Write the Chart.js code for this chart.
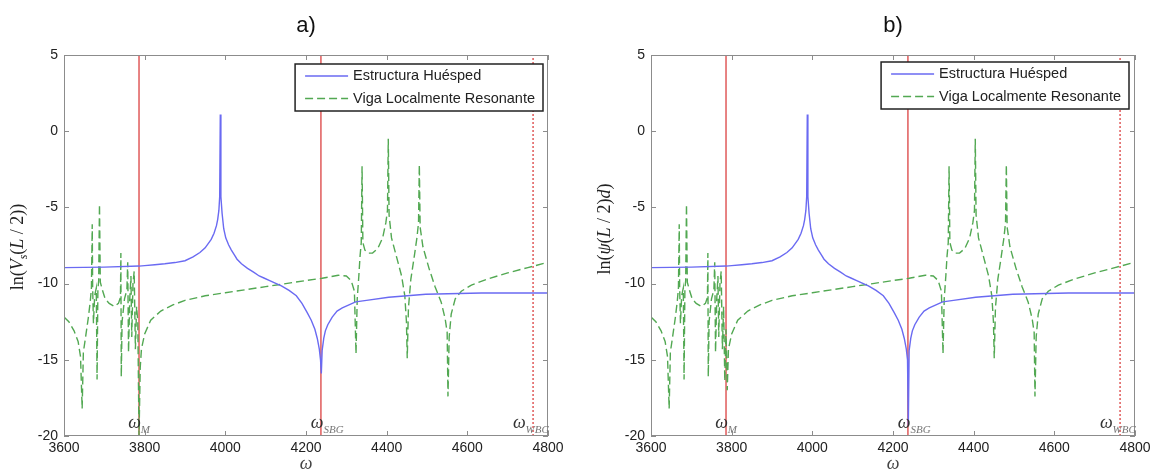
<!DOCTYPE html>
<html lang="es">
<head>
<meta charset="UTF-8">
<title>Viga localmente resonante - a) y b)</title>
<script src="https://cdn.jsdelivr.net/npm/chart.js"></script>
<style>
  body { margin: 0; background: #fff; width: 1157px; height: 475px; overflow: hidden; position: relative; }
  .panel { position: absolute; top: 0; height: 475px; }
</style>
</head>
<body>
<div class="panel" style="left:0;width:580px"><canvas id="chartA" width="580" height="475"></canvas></div>
<div class="panel" style="left:580px;width:577px"><canvas id="chartB" width="577" height="475"></canvas></div>

<script>
// --- datos ---
const omegaBlue = [3600, 3700, 3786, 3800, 3825, 3850, 3875, 3900, 3920, 3937, 3950, 3965, 3972, 3978, 3981,
  3984, 3986, 3987.5, 3989, 3992, 3996, 4001, 4008, 4015, 4022, 4029, 4040, 4055, 4070, 4084, 4097,
  4110, 4125, 4139, 4158, 4176, 4190, 4203, 4213, 4222, 4228, 4233, 4236, 4238, 4240, 4244, 4248,
  4254, 4265, 4277, 4290, 4323, 4350, 4405, 4497, 4635, 4800];
const blueA = [-8.95, -8.92, -8.85, -8.82, -8.76, -8.7, -8.62, -8.5, -8.25, -7.96, -7.65, -7.1, -6.7, -6.2, -5.8,
  -5.2, -4.3, 1.1, -4.3, -5.4, -6.4, -7.0, -7.45, -7.8, -8.1, -8.4, -8.7, -9.0, -9.25, -9.5, -9.65,
  -9.8, -9.98, -10.15, -10.45, -10.8, -11.3, -11.9, -12.4, -13.0, -13.6, -14.3, -15.0, -15.9, -14.4, -13.6, -13.1,
  -12.7, -12.2, -11.8, -11.6, -11.2, -11.1, -10.9, -10.7, -10.62, -10.62];
const blueB = [-8.95, -8.92, -8.85, -8.82, -8.76, -8.7, -8.62, -8.5, -8.25, -7.96, -7.65, -7.1, -6.7, -6.2, -5.8,
  -5.2, -4.3, 1.1, -4.3, -5.4, -6.4, -7.0, -7.45, -7.8, -8.1, -8.4, -8.7, -9.0, -9.25, -9.5, -9.65,
  -9.8, -9.98, -10.15, -10.45, -10.8, -11.3, -11.9, -12.4, -13.0, -13.6, -14.3, -15.0, -19.3, -14.4, -13.6, -13.1,
  -12.7, -12.2, -11.8, -11.6, -11.2, -11.1, -10.9, -10.7, -10.62, -10.62];

const omegaGreen = [3600, 3612, 3625, 3635, 3641, 3645, 3648, 3653, 3660, 3665, 3668, 3670, 3671, 3673,
  3676, 3680, 3682, 3684, 3686, 3688, 3690, 3695, 3702, 3712, 3725, 3735, 3740, 3741, 3742, 3744,
  3750, 3756, 3758, 3760, 3763, 3766, 3768, 3771, 3774, 3777, 3780, 3783, 3786, 3789, 3792,
  3800, 3815, 3840, 3870, 3900, 3950, 4000, 4050, 4100, 4150, 4200, 4240, 4280, 4300, 4312,
  4320, 4324, 4327, 4331, 4334, 4337, 4339, 4341, 4346, 4355, 4365, 4378, 4390, 4398, 4402,
  4404, 4406, 4412, 4425, 4437, 4445, 4449, 4451, 4454, 4460, 4468, 4475, 4479, 4481, 4483,
  4490, 4505, 4520, 4535, 4545, 4550, 4552, 4555, 4560, 4570, 4585, 4610, 4650, 4700, 4750, 4800];
const greenA = [-12.2, -12.5, -13.1, -13.8, -14.8, -18.2, -14.5, -13.6, -12.3, -11.2, -10.3, -6.1, -10.2, -12.6,
  -10.8, -10.3, -16.3, -10.4, -9.8, -4.8, -9.9, -10.4, -11.0, -11.3, -11.5, -11.3, -10.9, -8.0, -16.1, -12.5,
  -11.0, -10.4, -8.6, -14.5, -11.0, -9.5, -13.5, -10.0, -9.2, -14.3, -11.5, -12.5, -20, -15.5, -14.3,
  -13.3, -12.4, -11.8, -11.4, -11.1, -10.8, -10.6, -10.4, -10.2, -10.0, -9.8, -9.65, -9.45, -9.5, -9.8,
  -10.5, -14.6, -11.0, -9.5, -8.2, -7.3, -2.3, -7.3, -7.8, -8.0, -8.0, -7.7, -7.0, -6.0, -5.2,
  -0.5, -5.5, -7.0, -8.3, -9.5, -10.8, -12.5, -14.9, -11.6, -9.7, -8.3, -7.0, -6.0, -2.2, -6.3,
  -7.6, -9.0, -10.2, -11.2, -12.3, -13.2, -17.4, -13.5, -12.0, -11.0, -10.5, -10.1, -9.7, -9.3, -8.95, -8.6];
const greenB = [-12.2, -12.5, -13.1, -13.8, -14.8, -18.2, -14.5, -13.6, -12.3, -11.2, -10.3, -6.1, -10.2, -12.6,
  -10.8, -10.3, -16.3, -10.4, -9.8, -4.8, -9.9, -10.4, -11.0, -11.3, -11.5, -11.3, -10.9, -8.0, -16.1, -12.5,
  -11.0, -10.4, -8.6, -14.5, -11.0, -9.5, -13.5, -10.0, -9.2, -14.3, -11.5, -16.4, -13.0, -17.0, -14.3,
  -13.3, -12.4, -11.8, -11.4, -11.1, -10.8, -10.6, -10.4, -10.2, -10.0, -9.8, -9.65, -9.45, -9.5, -9.8,
  -10.5, -14.6, -11.0, -9.5, -8.2, -7.3, -2.3, -7.3, -7.8, -8.0, -8.0, -7.7, -7.0, -6.0, -5.2,
  -0.5, -5.5, -7.0, -8.3, -9.5, -10.8, -12.5, -14.9, -11.6, -9.7, -8.3, -7.0, -6.0, -2.2, -6.3,
  -7.6, -9.0, -10.2, -11.2, -12.3, -13.2, -17.4, -13.5, -12.0, -11.0, -10.5, -10.1, -9.7, -9.3, -8.95, -8.6];

const markerOmega = [3786, 4237, 4763];
const markerNames = ['M', 'SBG', 'WBG'];
const markerLabelOmega = [3759, 4212, 4713];
const markerLabelY = -19.5;

const xTicks = { min: 3600, max: 4800, step: 200 };
const yTicks = { min: -20, max: 5, step: 5 };
const seriesNames = ['Estructura Huésped', 'Viga Localmente Resonante'];

const SANS = "'Liberation Sans', Arial, sans-serif";
const SERIF = "'Liberation Serif', 'Times New Roman', serif";
const BLUE = '#6a6af2', GREEN = '#52a852', RED = '#e05a5a';

const toPoints = (xs, ys) => xs.map((x, i) => ({ x, y: ys[i] }));

// caja estilo MATLAB con marcas hacia dentro
const framePlugin = {
  id: 'frame',
  afterDatasetsDraw(chart) {
    const { ctx, chartArea: a, scales } = chart;
    ctx.save();
    ctx.strokeStyle = '#8c8c8c';
    ctx.lineWidth = 1;
    ctx.strokeRect(a.left + 0.5, a.top + 0.5, a.right - a.left - 1, a.bottom - a.top - 1);
    ctx.beginPath();
    scales.x.ticks.forEach(t => {
      const px = Math.round(scales.x.getPixelForValue(t.value)) + 0.5;
      ctx.moveTo(px, a.bottom); ctx.lineTo(px, a.bottom - 5);
      ctx.moveTo(px, a.top); ctx.lineTo(px, a.top + 5);
    });
    scales.y.ticks.forEach(t => {
      const py = Math.round(scales.y.getPixelForValue(t.value)) + 0.5;
      ctx.moveTo(a.left, py); ctx.lineTo(a.left + 5, py);
      ctx.moveTo(a.right, py); ctx.lineTo(a.right - 5, py);
    });
    ctx.stroke();
    ctx.restore();
  }
};

const decoPlugin = {
  id: 'deco',
  afterDraw(chart, args, o) {
    const { ctx, chartArea: a, scales } = chart;
    ctx.save();

    // titulo del panel
    ctx.fillStyle = '#111';
    ctx.font = '22px ' + SANS;
    ctx.textAlign = 'center';
    ctx.textBaseline = 'middle';
    ctx.fillText(o.title, (a.left + a.right) / 2, 26);

    // etiqueta del eje y (texto con cursiva y subindice)
    ctx.save();
    ctx.translate(a.left - 47, o.yTitleY);
    ctx.rotate(-Math.PI / 2);
    ctx.textAlign = 'left';
    ctx.textBaseline = 'alphabetic';
    const fontOf = p => (p.it ? 'italic ' : '') + (p.sub ? 12 : 18) + 'px ' + SERIF;
    let total = 0;
    o.yParts.forEach(p => { ctx.font = fontOf(p); total += ctx.measureText(p.t).width; });
    let cx = -total / 2;
    ctx.fillStyle = '#222';
    o.yParts.forEach(p => {
      ctx.font = fontOf(p);
      ctx.fillText(p.t, cx, 6 + (p.sub ? 4 : 0));
      cx += ctx.measureText(p.t).width;
    });
    ctx.restore();

    // etiquetas de frecuencias
    markerOmega.forEach((w, i) => {
      const px = scales.x.getPixelForValue(markerLabelOmega[i]);
      const py = scales.y.getPixelForValue(markerLabelY);
      ctx.textAlign = 'left';
      ctx.textBaseline = 'alphabetic';
      ctx.fillStyle = '#333';
      ctx.font = 'italic 18px ' + SERIF;
      ctx.fillText('ω', px, py);
      const ww = ctx.measureText('ω').width;
      ctx.fillStyle = '#777';
      ctx.font = 'italic 11px ' + SERIF;
      ctx.fillText(markerNames[i], px + ww, py + 5);
    });

    // leyenda dentro del area
    ctx.font = '14.5px ' + SANS;
    const textW = Math.max(...seriesNames.map(s => ctx.measureText(s).width));
    const boxW = 10 + 43 + 5 + textW + 8;
    const boxH = 47;
    const bx = a.right - o.legendRight - boxW;
    const by = a.top + o.legendTop;
    ctx.fillStyle = '#fff';
    ctx.fillRect(bx, by, boxW, boxH);
    ctx.strokeStyle = '#222';
    ctx.lineWidth = 1.5;
    ctx.strokeRect(bx, by, boxW, boxH);
    const rows = [
      { name: seriesNames[0], color: BLUE, dash: [] },
      { name: seriesNames[1], color: GREEN, dash: [8, 4] }
    ];
    rows.forEach((r, i) => {
      const ry = by + 12 + i * 22.5;
      ctx.beginPath();
      ctx.setLineDash(r.dash);
      ctx.strokeStyle = r.color;
      ctx.lineWidth = 1.5;
      ctx.moveTo(bx + 10, ry); ctx.lineTo(bx + 53, ry);
      ctx.stroke();
      ctx.setLineDash([]);
      ctx.fillStyle = '#222';
      ctx.textAlign = 'left';
      ctx.textBaseline = 'middle';
      ctx.fillText(r.name, bx + 58, ry);
    });
    ctx.restore();
  }
};

function makePanel(id, blue, green, o) {
  const vlines = markerOmega.map((w, i) => ({
    label: 'ω' + markerNames[i],
    data: [{ x: w, y: yTicks.min }, { x: w, y: yTicks.max }],
    borderColor: RED,
    borderWidth: 1.5,
    borderDash: i === 2 ? [2, 2] : [],
    pointRadius: 0,
    order: 2
  }));
  return new Chart(document.getElementById(id), {
    type: 'line',
    data: {
      datasets: [
        { label: seriesNames[0], data: toPoints(omegaBlue, blue), borderColor: BLUE, borderWidth: 1.4,
          pointRadius: 0, tension: 0, order: 0 },
        { label: seriesNames[1], data: toPoints(omegaGreen, green), borderColor: GREEN, borderWidth: 1.4,
          borderDash: [8, 4], pointRadius: 0, tension: 0, order: 1 },
        ...vlines
      ]
    },
    options: {
      responsive: false,
      animation: false,
      events: [],
      layout: { padding: { top: 55, right: o.padRight, left: 0, bottom: 0 } },
      scales: {
        x: {
          type: 'linear', min: xTicks.min, max: xTicks.max,
          ticks: { stepSize: xTicks.step, color: '#222', font: { family: SANS, size: 14 }, padding: 4,
            maxRotation: 0, autoSkip: false, callback: v => String(v) },
          grid: { display: false, drawTicks: false },
          border: { display: false },
          title: { display: true, text: 'ω', color: '#444',
            font: { family: SERIF, size: 18, style: 'italic' }, padding: { top: 0, bottom: 0 } },
          afterFit: s => { s.height = 39; }
        },
        y: {
          min: yTicks.min, max: yTicks.max,
          ticks: { stepSize: yTicks.step, color: '#222', font: { family: SANS, size: 14 }, padding: 6,
            callback: v => String(v) },
          grid: { display: false, drawTicks: false },
          border: { display: false },
          afterFit: s => { s.width = o.yWidth; }
        }
      },
      plugins: {
        legend: { display: false },
        tooltip: { enabled: false },
        deco: o
      }
    },
    plugins: [framePlugin, decoPlugin]
  });
}

makePanel('chartA', blueA, greenA, {
  title: 'a)', yWidth: 64, padRight: 32, yTitleY: 247, legendRight: 5, legendTop: 9,
  yParts: [{ t: 'ln(' }, { t: 'V', it: true }, { t: 's', it: true, sub: true }, { t: '(' },
    { t: 'L', it: true }, { t: ' / 2))' }]
});
makePanel('chartB', blueB, greenB, {
  title: 'b)', yWidth: 71, padRight: 22, yTitleY: 229, legendRight: 6, legendTop: 7,
  yParts: [{ t: 'ln(' }, { t: 'ψ', it: true }, { t: '(' }, { t: 'L', it: true }, { t: ' / 2)' },
    { t: 'd', it: true }, { t: ')' }]
});
</script>
</body>
</html>
